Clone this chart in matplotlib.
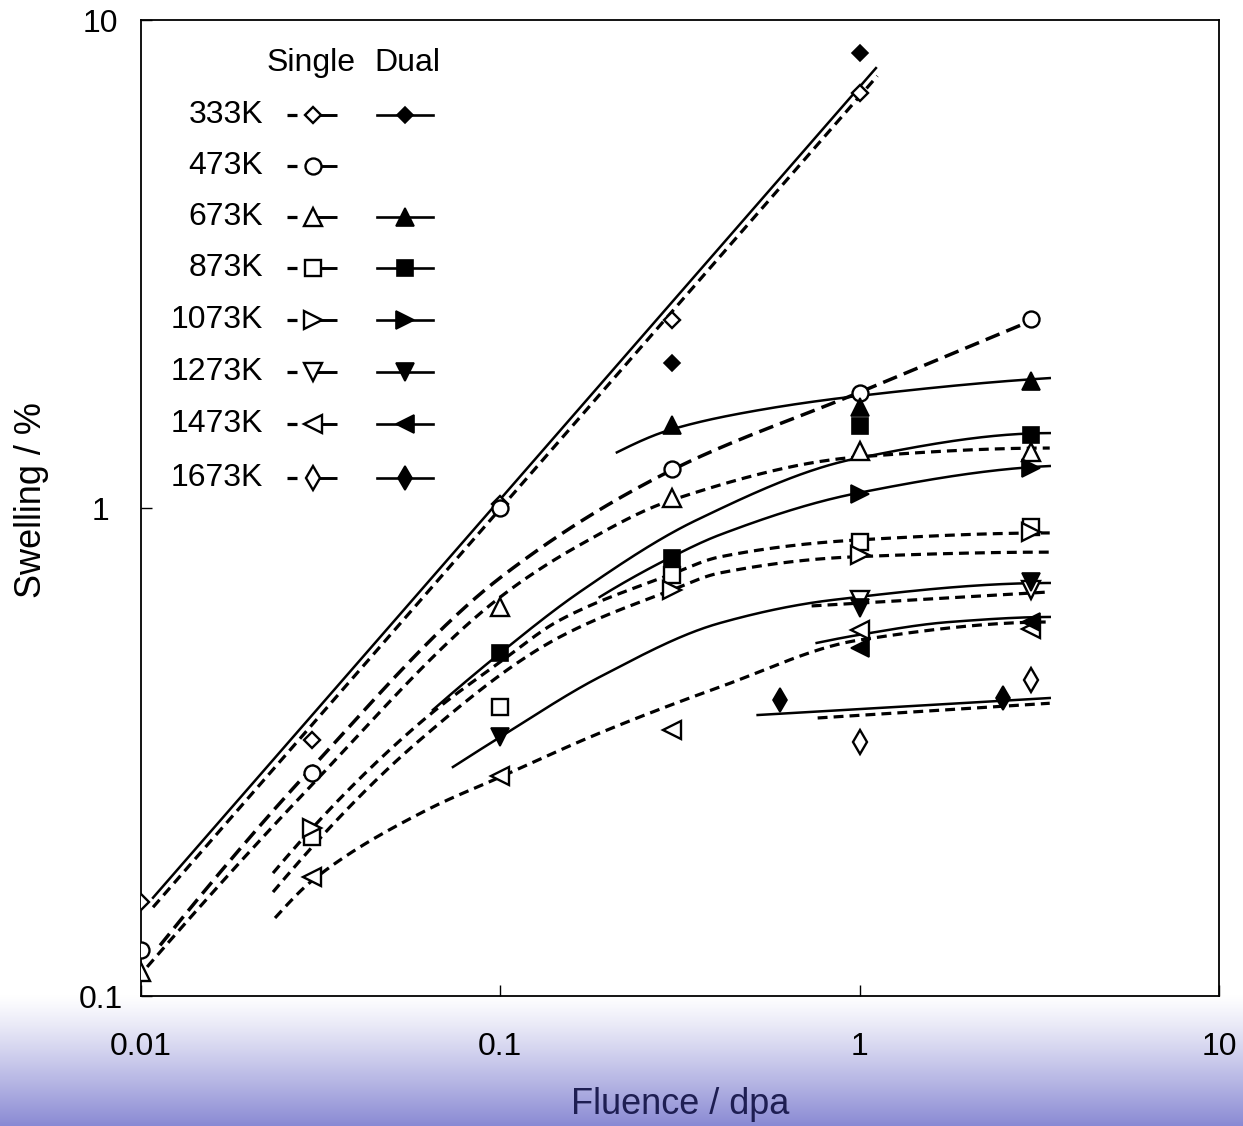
import numpy as np
import matplotlib
matplotlib.use("Agg")
import matplotlib.pyplot as plt

plt.rcParams['font.family'] = ['Liberation Sans', 'DejaVu Sans']

# ---------------- data ----------------
fluence = [0.01, 0.03, 0.1, 0.3, 1, 3]
temps = ['333K', '473K', '673K', '873K', '1073K', '1273K', '1473K', '1673K']

# single-beam irradiation (open markers)
single_333K = [0.156, 0.335, 1.02, 2.43, 7.08, None]
single_473K = [0.124, 0.286, 1.00, 1.20, 1.72, 2.44]
single_673K = [0.112, None, 0.627, 1.05, 1.31, 1.30]
single_873K = [None, 0.212, 0.391, 0.729, 0.852, 0.914]
single_1073K = [None, 0.221, None, 0.679, 0.801, 0.893]
single_1273K = [None, None, None, None, 0.648, 0.679]
single_1473K = [None, 0.175, 0.282, 0.351, 0.562, 0.565]
single_1673K = [None, None, None, None, 0.331, 0.445]

# dual-beam irradiation (filled markers)
dual_333K = [None, None, None, 1.98, 8.56, None]
dual_473K = [None, None, None, None, None, None]
dual_673K = [None, None, None, 1.48, 1.61, 1.82]
dual_873K = [None, None, 0.505, 0.790, 1.47, 1.41]
dual_1073K = [None, None, None, None, 1.07, 1.21]
dual_1273K = [None, None, 0.339, None, 0.624, 0.705]
dual_1473K = [None, None, None, None, 0.516, 0.584]
dual_1673K_fluence = [0.6, 2.5]
dual_1673K = [0.404, 0.408]

# fitted curves
fit_single_333K_x = [0.0108, 1.12]
fit_single_333K_y = [0.152, 7.68]
fit_single_473K_x = [0.0113, 0.0295, 0.1, 0.300, 0.987, 3.17]
fit_single_473K_y = [0.127, 0.2905, 0.72, 1.196, 1.72, 2.46]
fit_single_673K_x = [0.0104, 0.0295, 0.1, 0.1664, 0.300, 0.987, 3.38]
fit_single_673K_y = [0.1147, 0.268, 0.657, 0.840, 1.038, 1.272, 1.327]
fit_single_873K_x = [0.0233, 0.0597, 0.1016, 0.1463, 0.300, 0.408, 0.987, 3.38]
fit_single_873K_y = [0.1786, 0.3626, 0.488, 0.589, 0.732, 0.794, 0.860, 0.889]
fit_single_1073K_x = [0.0233, 0.0597, 0.1463, 0.300, 0.408, 0.956, 3.38]
fit_single_1073K_y = [0.1633, 0.3346, 0.544, 0.679, 0.736, 0.794, 0.812]
fit_single_1273K_x = [0.735, 3.38]
fit_single_1273K_y = [0.630, 0.673]
fit_single_1473K_x = [0.0236, 0.0301, 0.0624, 0.1, 0.189, 0.408, 1.0, 3.38]
fit_single_1473K_y = [0.1445, 0.1729, 0.2405, 0.281, 0.3458, 0.4297, 0.5365, 0.584]
fit_single_1673K_x = [0.764, 3.38]
fit_single_1673K_y = [0.3713, 0.398]

fit_dual_333K_x = [0.0108, 1.11]
fit_dual_333K_y = [0.159, 7.97]
fit_dual_673K_x = [0.211, 0.296, 0.527, 0.987, 3.38]
fit_dual_673K_y = [1.30, 1.445, 1.588, 1.696, 1.846]
fit_dual_873K_x = [0.0649, 0.1, 0.1664, 0.352, 0.987, 3.38]
fit_dual_873K_y = [0.3857, 0.5045, 0.673, 0.945, 1.265, 1.424]
fit_dual_1073K_x = [0.189, 0.300, 0.408, 0.987, 3.38]
fit_dual_1073K_y = [0.657, 0.794, 0.881, 1.073, 1.219]
fit_dual_1273K_x = [0.0738, 0.1, 0.189, 0.408, 0.841, 3.38]
fit_dual_1273K_y = [0.2946, 0.3395, 0.4505, 0.581, 0.648, 0.702]
fit_dual_1473K_x = [0.759, 0.987, 1.78, 3.38]
fit_dual_1473K_y = [0.529, 0.549, 0.584, 0.598]
fit_dual_1673K_x = [0.520, 3.38]
fit_dual_1673K_y = [0.3765, 0.408]

# ---------------- styles ----------------
markers = {'333K': ('D', 8.5), '473K': ('o', 11.5), '673K': ('^', 12.5), '873K': ('s', 11),
           '1073K': ('>', 12.5), '1273K': ('v', 12.5), '1473K': ('<', 12.5), '1673K': ('d', 12.5)}

single_series = [single_333K, single_473K, single_673K, single_873K,
                 single_1073K, single_1273K, single_1473K, single_1673K]
dual_series = [dual_333K, dual_473K, dual_673K, dual_873K,
               dual_1073K, dual_1273K, dual_1473K, None]

single_fits = [(fit_single_333K_x, fit_single_333K_y), (fit_single_473K_x, fit_single_473K_y),
               (fit_single_673K_x, fit_single_673K_y), (fit_single_873K_x, fit_single_873K_y),
               (fit_single_1073K_x, fit_single_1073K_y), (fit_single_1273K_x, fit_single_1273K_y),
               (fit_single_1473K_x, fit_single_1473K_y), (fit_single_1673K_x, fit_single_1673K_y)]
dual_fits = [(fit_dual_333K_x, fit_dual_333K_y), (fit_dual_673K_x, fit_dual_673K_y),
             (fit_dual_873K_x, fit_dual_873K_y), (fit_dual_1073K_x, fit_dual_1073K_y),
             (fit_dual_1273K_x, fit_dual_1273K_y), (fit_dual_1473K_x, fit_dual_1473K_y),
             (fit_dual_1673K_x, fit_dual_1673K_y)]


def pchip_log(xs, ys, n=300):
    lx = np.log10(np.asarray(xs, float))
    ly = np.log10(np.asarray(ys, float))
    t = np.linspace(lx[0], lx[-1], n)
    if len(lx) == 2:
        return 10 ** t, 10 ** np.interp(t, lx, ly)
    h = np.diff(lx)
    d = np.diff(ly) / h
    m = np.zeros_like(ly)
    for k in range(1, len(lx) - 1):
        if d[k - 1] * d[k] <= 0:
            m[k] = 0.0
        else:
            w1 = 2 * h[k] + h[k - 1]
            w2 = h[k] + 2 * h[k - 1]
            m[k] = (w1 + w2) / (w1 / d[k - 1] + w2 / d[k])

    def end(h0, h1, d0, d1):
        mm = ((2 * h0 + h1) * d0 - h0 * d1) / (h0 + h1)
        if np.sign(mm) != np.sign(d0):
            mm = 0.0
        elif np.sign(d0) != np.sign(d1) and abs(mm) > abs(3 * d0):
            mm = 3 * d0
        return mm
    m[0] = end(h[0], h[1], d[0], d[1])
    m[-1] = end(h[-1], h[-2], d[-1], d[-2])
    idx = np.clip(np.searchsorted(lx, t) - 1, 0, len(lx) - 2)
    s = (t - lx[idx]) / h[idx]
    h00 = 2 * s ** 3 - 3 * s ** 2 + 1
    h10 = s ** 3 - 2 * s ** 2 + s
    h01 = -2 * s ** 3 + 3 * s ** 2
    h11 = s ** 3 - s ** 2
    yy = h00 * ly[idx] + h10 * h[idx] * m[idx] + h01 * ly[idx + 1] + h11 * h[idx] * m[idx + 1]
    return 10 ** t, 10 ** yy


# ---------------- figure ----------------
W, H = 1243, 1126
fig = plt.figure(figsize=(W / 100, H / 100), dpi=100)
fig.patch.set_facecolor('white')

# gradient band at the bottom
bg = fig.add_axes([0, 0, 1, 131 / H])
tt = np.linspace(0, 1, 200) ** 1.15
top = np.array([1.0, 1.0, 1.0])
bot = np.array([0.54, 0.54, 0.83])
grad = (top[None, :] * (1 - tt[:, None]) + bot[None, :] * tt[:, None])[:, None, :]
bg.imshow(grad, aspect='auto', extent=[0, 1, 0, 1], origin='upper')
bg.set_axis_off()

L, R, T, B = 141, 1219, 20, 996
ax = fig.add_axes([L / W, (H - B) / H, (R - L) / W, (B - T) / H])
ax.set_facecolor('white')
ax.set_xscale('log')
ax.set_yscale('log')
ax.set_xlim(0.01, 10)
ax.set_ylim(0.1, 10)

# fitted lines
for i, (fx, fy) in enumerate(single_fits):
    xx, yy = pchip_log(fx, fy)
    if i == 1:
        ax.plot(xx, yy, color='black', lw=2.5, dashes=(4.3, 2.1), zorder=2)
    else:
        ax.plot(xx, yy, color='black', lw=2.3, dashes=(3.1, 1.9), zorder=2)
for fx, fy in dual_fits:
    xx, yy = pchip_log(fx, fy)
    ax.plot(xx, yy, color='black', lw=1.8, zorder=2)

# data markers
for i, tkey in enumerate(temps):
    mk, ms = markers[tkey]
    sx = [f for f, v in zip(fluence, single_series[i]) if v is not None]
    sy = [v for v in single_series[i] if v is not None]
    ax.plot(sx, sy, ls='none', marker=mk, ms=ms, mfc='white', mec='black', mew=1.7, zorder=4)
    if dual_series[i] is not None:
        dx = [f for f, v in zip(fluence, dual_series[i]) if v is not None]
        dy = [v for v in dual_series[i] if v is not None]
        if dx:
            ax.plot(dx, dy, ls='none', marker=mk, ms=ms, mfc='black', mec='black', mew=1.2, zorder=5)
mk, ms = markers['1673K']
ax.plot(dual_1673K_fluence, dual_1673K, ls='none', marker=mk, ms=ms, mfc='black', mec='black',
        mew=1.2, zorder=5)

# axes styling
for sp in ax.spines.values():
    sp.set_linewidth(1.3)
ax.xaxis.set_minor_locator(matplotlib.ticker.NullLocator())
ax.yaxis.set_minor_locator(matplotlib.ticker.NullLocator())
ax.set_xticks([0.01, 0.1, 1, 10])
ax.set_xticklabels(['0.01', '0.1', '1', '10'])
ax.set_yticks([0.1, 1, 10])
ax.set_yticklabels(['0.1', '1', '10'])
ax.tick_params(axis='both', direction='in', length=8, width=1.0, labelsize=23)
ax.tick_params(axis='x', pad=26)
ax.tick_params(axis='y', pad=29)
for lab in ax.get_yticklabels():
    lab.set_horizontalalignment('center')

fig.text(32 / W, 1 - 500 / H, 'Swelling / %', rotation=90, ha='center', va='center', fontsize=26)
fig.text(680 / W, 1 - 1105 / H, 'Fluence / dpa', ha='center', va='center', fontsize=26,
         color='#1e1e52')

# legend (drawn manually)
def fxp(px):
    return (px - L) / (R - L)


def fyp(py):
    return (B - py) / (B - T)


ax.text(fxp(311), fyp(63), 'Single', transform=ax.transAxes, ha='center', va='center', fontsize=23)
ax.text(fxp(407), fyp(63), 'Dual', transform=ax.transAxes, ha='center', va='center', fontsize=23)
row_y = [115, 166, 217, 268, 320, 372, 424, 478]
has_dual = [True, False, True, True, True, True, True, True]
for i, tkey in enumerate(temps):
    yy = fyp(row_y[i])
    mk, ms = markers[tkey]
    ax.text(fxp(263), yy, tkey, transform=ax.transAxes, ha='right', va='center', fontsize=23)
    ax.plot([fxp(287), fxp(297)], [yy, yy], color='black', lw=2.3, transform=ax.transAxes,
            clip_on=False, solid_capstyle='butt')
    ax.plot([fxp(313), fxp(337)], [yy, yy], color='black', lw=2.1, transform=ax.transAxes,
            clip_on=False, solid_capstyle='butt')
    ax.plot([fxp(313)], [yy], ls='none', marker=mk, ms=ms, mfc='white', mec='black', mew=1.7,
            transform=ax.transAxes, clip_on=False, zorder=5)
    if has_dual[i]:
        ax.plot([fxp(377), fxp(433)], [yy, yy], color='black', lw=1.9, transform=ax.transAxes,
                clip_on=False)
        ax.plot([fxp(405)], [yy], ls='none', marker=mk, ms=ms, mfc='black', mec='black', mew=1.2,
                transform=ax.transAxes, clip_on=False, zorder=5)

fig.savefig('out.png', dpi=100, facecolor='white')
